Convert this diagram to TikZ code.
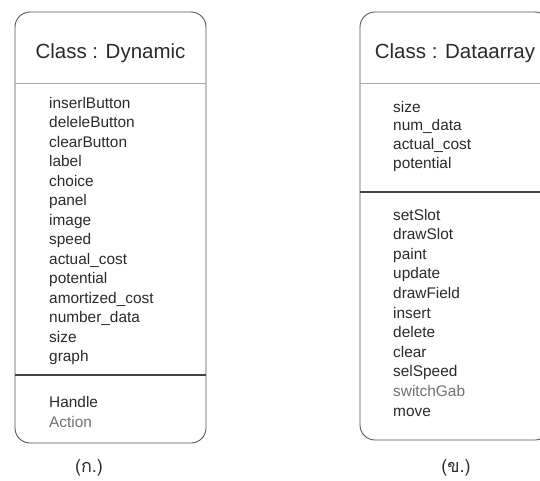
\documentclass[tikz,border=0pt]{standalone}
\usepackage{fontspec}
\setmainfont{Liberation Sans}
\newfontfamily\thaifont[Script=Thai]{Loma}
\definecolor{txt}{HTML}{2A2A2A}
\definecolor{faint}{HTML}{707070}
\definecolor{frame}{HTML}{555555}
\definecolor{lightrule}{HTML}{A8A8A8}
\definecolor{darkrule}{HTML}{444444}
\begin{document}
\begin{tikzpicture}[x=1pt,y=-1pt,
  classbox/.style={draw=frame, line width=0.9pt, rounded corners=15pt},
  headrule/.style={draw=lightrule, line width=0.8pt},
  partrule/.style={draw=darkrule, line width=1.2pt},
  classtitle/.style={font=\fontsize{20.5}{24}\selectfont, text=txt, inner sep=0pt},
  member/.style={font=\fontsize{15.4}{18}\selectfont, text=txt, inner sep=0pt, anchor=base west},
  caption/.style={font=\thaifont\fontsize{18}{21}\selectfont, text=txt, inner sep=0pt}]
\useasboundingbox (0,0) rectangle (540,480);
\clip (0,0) rectangle (540,480);
% ---------------- Class : Dynamic ----------------
\draw[classbox] (15,12) rectangle (206,443);
\coordinate (dl1) at (15,83);  \coordinate (dr1) at (206,83);
\coordinate (dl2) at (15,375); \coordinate (dr2) at (206,375);
\draw[headrule] (dl1) -- (dr1);
\draw[partrule] (dl2) -- (dr2);
\node[classtitle] (t1) at (110.5,53) {Class : Dynamic};
\foreach \name [count=\i from 0] in {inserlButton,deleleButton,clearButton,label,choice,panel,image,speed,actual\_cost,potential,amortized\_cost,number\_data,size,graph}
  \node[member] (a\i) at (49,108+19.5*\i) {\name};
\node[member] (m0) at (49,407) {Handle};
\node[member, text=faint] (m1) at (49,427) {Action};
\node[caption] (c1) at (89,468) {(ก.)};
% ---------------- Class : Dataarray ----------------
\draw[classbox] (360,12) rectangle (550,440);
\coordinate (el1) at (360,83);  \coordinate (er1) at (550,83);
\coordinate (el2) at (360,192); \coordinate (er2) at (550,192);
\draw[headrule] (el1) -- (er1);
\draw[partrule] (el2) -- (er2);
\node[classtitle] (t2) at (455,53) {Class : Dataarray};
\foreach \name [count=\i from 0] in {size,num\_data,actual\_cost,potential}
  \node[member] (b\i) at (393,112+18.8*\i) {\name};
\foreach \name [count=\i from 0] in {setSlot,drawSlot,paint,update,drawField,insert,delete,clear,selSpeed}
  \node[member] (n\i) at (393,220+19.6*\i) {\name};
\node[member, text=faint] (n9) at (393,396.4) {switchGab};
\node[member] (n10) at (393,416) {move};
\node[caption] (c2) at (456,468) {(ข.)};
\end{tikzpicture}
\end{document}
